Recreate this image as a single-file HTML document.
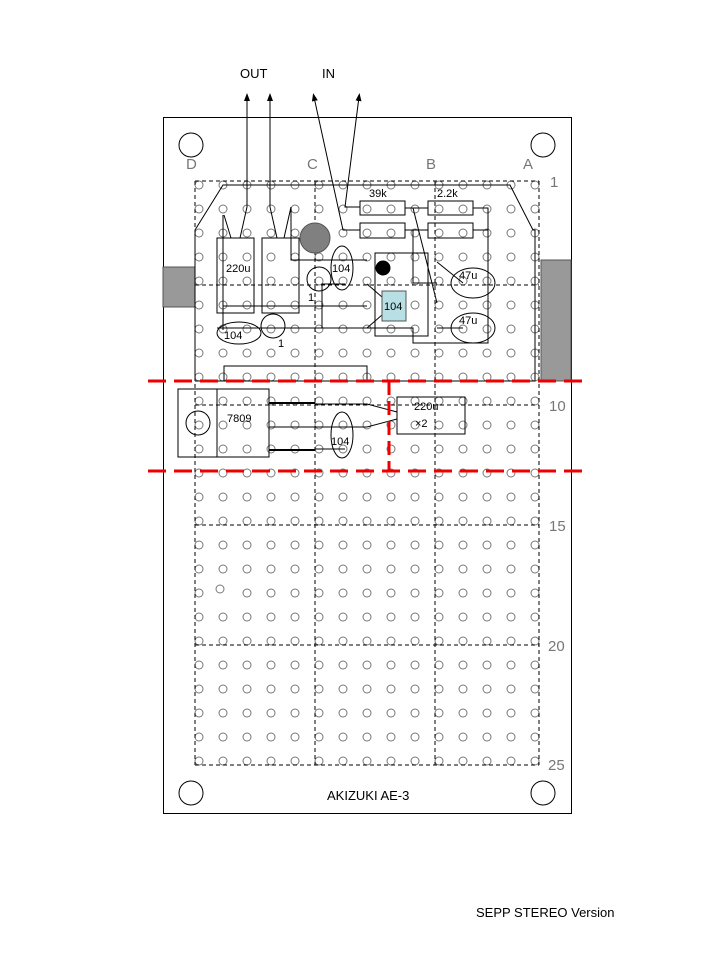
<!DOCTYPE html>
<html><head><meta charset="utf-8"><style>
html,body{margin:0;padding:0;background:#fff;}
svg{display:block;font-family:"Liberation Sans",sans-serif;}
</style></head><body>
<svg width="720" height="960" viewBox="0 0 720 960" xmlns="http://www.w3.org/2000/svg">
<defs>
<marker id="ar" markerWidth="8" markerHeight="8" refX="4" refY="4" orient="auto-start-reverse"><path d="M0,1 L8,4 L0,7 z" fill="#000"/></marker>
<pattern id="hp" x="187" y="173" width="24" height="24" patternUnits="userSpaceOnUse">
<circle cx="12" cy="12" r="4" fill="none" stroke="#777" stroke-width="1"/>
</pattern>
</defs>
<rect x="163.5" y="117.5" width="408" height="696" fill="#fff" stroke="#000"/>
<rect x="163" y="267" width="32" height="40" fill="#999" stroke="#555"/>
<rect x="541" y="260" width="30" height="121" fill="#999" stroke="#555"/>
<g fill="none" stroke="#000">
<circle cx="191" cy="145" r="12"/><circle cx="543" cy="145" r="12"/>
<circle cx="191" cy="793" r="12"/><circle cx="543" cy="793" r="12"/>
</g>
<rect x="187" y="173" width="360" height="600" fill="url(#hp)"/>
<rect x="216" y="586" width="14" height="14" fill="#fff"/>
<circle cx="220" cy="589" r="4" fill="none" stroke="#777"/>
<g stroke="#000" stroke-dasharray="4,3" fill="none">
<line x1="195" y1="181" x2="195" y2="765"/><line x1="315" y1="181" x2="315" y2="765"/>
<line x1="435" y1="181" x2="435" y2="765"/><line x1="539" y1="181" x2="539" y2="765"/>
<line x1="195" y1="181" x2="539" y2="181"/><line x1="195" y1="285" x2="539" y2="285"/>
<line x1="195" y1="405" x2="539" y2="405"/><line x1="195" y1="525" x2="539" y2="525"/>
<line x1="195" y1="645" x2="539" y2="645"/><line x1="195" y1="765" x2="539" y2="765"/>
</g>
<g fill="#777" font-size="15">
<text x="186" y="169">D</text><text x="307" y="169">C</text><text x="426" y="169">B</text><text x="523" y="169">A</text>
<text x="550" y="187">1</text><text x="549" y="411">10</text><text x="549" y="531">15</text><text x="548" y="651">20</text><text x="548" y="770">25</text>
</g>
<g fill="none" stroke="#000" stroke-width="1">
<polyline points="195,381 195,230 223,185 510,185 533,230 535,230 535,381 195,381"/>
<polyline points="224,381 224,366 367,366 367,381"/>
<rect x="217" y="238" width="37" height="75"/><rect x="262" y="238" width="37" height="75"/>
<polyline points="247,97 247,207 240,238" marker-start="url(#ar)"/>
<polyline points="270,97 270,207 277,238" marker-start="url(#ar)"/>
<line x1="224" y1="215" x2="231" y2="238"/><line x1="291" y1="207" x2="284" y2="238"/>
<polyline points="291,207 291,260 367,260"/>
<line x1="223" y1="215" x2="223" y2="330"/>
<line x1="223" y1="306" x2="367" y2="306"/>
<polyline points="217,328 413,328 413,343 488,343 488,208 473,208"/>
<polyline points="322,328 322,284 345,284"/>
<ellipse cx="342" cy="268" rx="11" ry="22"/>
<circle cx="319" cy="279" r="12"/>
<ellipse cx="239" cy="333" rx="22" ry="11"/>
<circle cx="273" cy="326" r="12"/>
<polyline points="314,97 343,230 360,230" marker-start="url(#ar)"/>
<polyline points="359,97 345,207 360,207" marker-start="url(#ar)"/>
<rect x="360" y="201" width="45" height="14"/><rect x="428" y="201" width="45" height="14"/>
<rect x="360" y="223" width="45" height="15"/><rect x="428" y="223" width="45" height="15"/>
<line x1="405" y1="208" x2="428" y2="208"/><line x1="405" y1="230" x2="428" y2="230"/>
<line x1="473" y1="230" x2="488" y2="230"/>
<line x1="413" y1="208" x2="437" y2="303"/>
<polyline points="413,230 413,283 437,283"/>
<rect x="375" y="253" width="53" height="83"/>
<line x1="367" y1="284" x2="382" y2="297"/><line x1="367" y1="328" x2="382" y2="315"/>
<ellipse cx="473" cy="283" rx="22" ry="15"/><ellipse cx="473" cy="328" rx="22" ry="15"/>
<line x1="437" y1="262" x2="463" y2="283"/><line x1="437" y1="328" x2="463" y2="328"/>
<rect x="178" y="389" width="91" height="68"/><line x1="217" y1="389" x2="217" y2="457"/>
<circle cx="198" cy="423" r="12"/>
<line x1="269" y1="403" x2="315" y2="403" stroke-width="2"/>
<line x1="269" y1="450" x2="315" y2="450" stroke-width="2"/>
<line x1="269" y1="427" x2="315" y2="427"/>
<polyline points="315,404 367,404 397,412"/><polyline points="315,427 367,427 397,419"/>
<rect x="397" y="397" width="68" height="37"/>
<ellipse cx="342" cy="435" rx="11" ry="23"/>
<line x1="315" y1="449" x2="345" y2="449"/>
</g>
<circle cx="315" cy="238" r="15" fill="#808080" stroke="#555"/>
<circle cx="383" cy="268" r="7.5" fill="#000"/>
<rect x="382" y="291" width="24" height="30" fill="#b8e0e4" stroke="#555"/>
<g fill="#000" font-size="11">
<text x="226" y="272">220u</text><text x="332" y="272">104</text><text x="308" y="301">1</text>
<text x="384" y="310">104</text><text x="224" y="339">104</text><text x="278" y="347">1</text>
<text x="369" y="197">39k</text><text x="437" y="197">2.2k</text>
<text x="459" y="279">47u</text><text x="459" y="324">47u</text>
<text x="227" y="422">7809</text><text x="331" y="445">104</text>
<text x="414" y="410">220u</text><text x="415" y="427">×2</text>
</g>
<g stroke="#e00" stroke-width="3" stroke-dasharray="18,8" fill="none">
<line x1="148" y1="381" x2="582" y2="381"/><line x1="148" y1="471" x2="582" y2="471"/>
<polyline points="389,381 389,471" stroke-dasharray="14,6"/>
</g>
<g fill="#000" font-size="13">
<text x="240" y="78">OUT</text><text x="322" y="78">IN</text>
<text x="327" y="800">AKIZUKI AE-3</text>
<text x="476" y="917">SEPP STEREO Version</text>
</g>
</svg>
</body></html>
